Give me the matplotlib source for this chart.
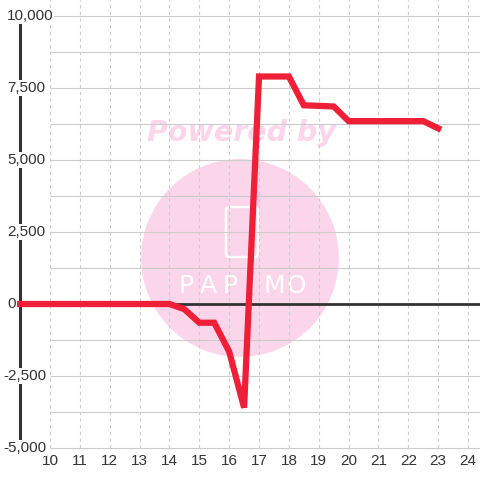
import matplotlib
matplotlib.use("Agg")
import matplotlib.pyplot as plt
from matplotlib.patches import Circle, FancyBboxPatch
import numpy as np

plt.rcParams['font.family'] = ['Liberation Sans', 'DejaVu Sans']

# data (half-hour steps)
hours = [9, 9.5, 10, 10.5, 11, 11.5, 12, 12.5, 13, 13.5, 14, 14.5, 15, 15.5,
         16, 16.5, 17, 17.5, 18, 18.5, 19, 19.5, 20, 20.5, 21, 21.5, 22, 22.5, 23]
values = [0, 0, 0, 0, 0, 0, 0, 0, 0, 0, 0, -180, -650, -650,
          -1650, -3600, 7900, 7900, 7900, 6900, 6880, 6860, 6350, 6350, 6350, 6350, 6350, 6350, 6100]

xticks = list(range(10, 25))
yticks = [-5000, -2500, 0, 2500, 5000, 7500, 10000]
ygrid = np.arange(-5000, 10001, 1250)

txt = '#333333'
grid_c = '#cccccc'

fig = plt.figure(figsize=(4.8, 4.8), dpi=100)
ax = fig.add_axes([0, 0, 1, 1])
ax.set_xlim(8.3256, 24.40)
ax.set_ylim(-6111, 10556)
ax.axis('off')

# watermark
ax.add_patch(Circle((0.5, 0.4625), 0.206, transform=ax.transAxes,
                    facecolor='#fbd5ea', edgecolor='none', zorder=0))
ax.text(0.504, 1 - 133 / 480, 'Powered by', transform=ax.transAxes,
        ha='center', va='center', fontsize=20.5, fontweight='heavy', style='italic',
        family='DejaVu Sans', color='#fbd5ea', zorder=0)
ax.add_patch(FancyBboxPatch((226 / 480, 1 - 257 / 480), 32 / 480, 50 / 480,
                            boxstyle='round,pad=0,rounding_size=0.008',
                            transform=ax.transAxes, facecolor='none',
                            edgecolor='white', lw=1.8, zorder=0.5))
for i, ch in enumerate('PAPIMO'):
    ax.text((186 + i * 22) / 480, 1 - 286 / 480, ch, transform=ax.transAxes,
            ha='center', va='center', fontsize=18, color='white',
            family='DejaVu Sans', zorder=0.5)

# grid
ax.hlines(ygrid, 10, 24.40, colors=grid_c, lw=0.8, zorder=1)
ax.vlines(xticks, -5000, 10556, colors=grid_c, lw=0.8, linestyles=(0, (3, 3)), zorder=1)

# axes lines
ax.plot([9, 9], [-5000, 10000], color=txt, lw=2.2, solid_capstyle='butt', zorder=2)
ax.plot([9, 24.40], [0, 0], color=txt, lw=2.0, zorder=2)

# series
ax.plot(hours, values, color='#ee1f36', lw=4.5, solid_joinstyle='miter',
        solid_capstyle='projecting', zorder=3)

# tick labels
for x in xticks:
    ax.text(x, -5451, str(x), ha='center', va='center', fontsize=11, color=txt)
for y in yticks:
    px = 3 if y < 0 else 7
    ax.text(px / 480, y, '{:,}'.format(y), transform=ax.get_yaxis_transform(),
            ha='left', va='center', fontsize=11, color=txt, zorder=4,
            bbox=dict(facecolor='white', edgecolor='none', pad=0.5))

fig.savefig('out.png', dpi=100)
